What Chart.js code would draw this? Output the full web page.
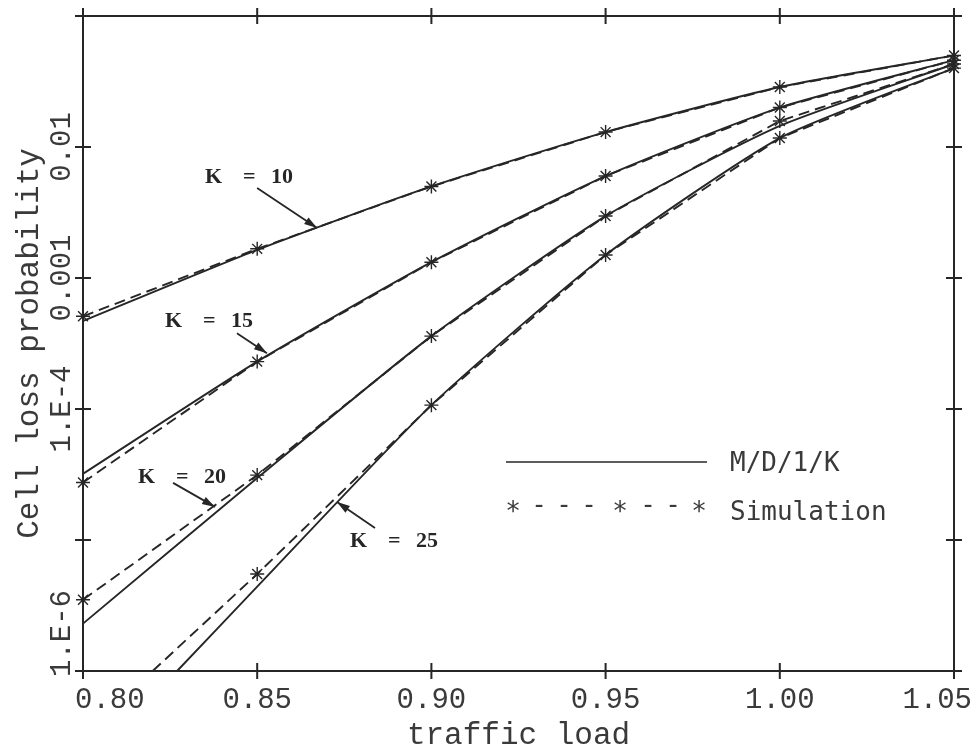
<!DOCTYPE html>
<html>
<head>
<meta charset="utf-8">
<script src="https://cdn.jsdelivr.net/npm/chart.js@4.4.1/dist/chart.umd.min.js"></script>
<style>
  body { margin: 0; background: #fff; }
  #wrap { width: 976px; height: 753px; }
</style>
</head>
<body>
<div id="wrap"><canvas id="chart" width="976" height="753"></canvas></div>
<script>
// traffic load
const load = [0.80, 0.85, 0.90, 0.95, 1.00, 1.05];
// K = 25 drops under 1.E-6 before 0.85, so it starts where it leaves the floor
const loadK25 = [0.827, 0.85, 0.90, 0.95, 1.00, 1.05];
const loadK25Sim = [0.820, 0.85, 0.90, 0.95, 1.00, 1.05];

// M/D/1/K (solid)
const mdK10 = [4.7e-4, 1.64e-3, 5.0e-3, 1.30e-2, 2.87e-2, 5.0e-2];
const mdK15 = [3.2e-5, 2.3e-4, 1.32e-3, 6.0e-3, 2.0e-2, 4.6e-2];
const mdK20 = [2.3e-6, 2.97e-5, 3.6e-4, 2.97e-3, 1.45e-2, 4.3e-2];
const mdK25 = [1.0e-6, 4.4e-6, 1.07e-4, 1.5e-3, 1.17e-2, 4.0e-2];

// Simulation (dashed, asterisks)
const simK10 = [5.1e-4, 1.67e-3, 5.0e-3, 1.30e-2, 2.87e-2, 5.0e-2];
const simK15 = [2.75e-5, 2.3e-4, 1.32e-3, 6.0e-3, 2.0e-2, 4.6e-2];
const simK20 = [3.5e-6, 3.13e-5, 3.6e-4, 2.97e-3, 1.58e-2, 4.3e-2];
const simK25 = [1.0e-6, 5.5e-6, 1.07e-4, 1.5e-3, 1.17e-2, 4.0e-2];

const xTicks = [0.80, 0.85, 0.90, 0.95, 1.00, 1.05];
const xTickLabels = ["0.80", "0.85", "0.90", "0.95", "1.00", "1.05"];
const yTicks = [1e-6, 1e-5, 1e-4, 1e-3, 1e-2, 1e-1];
const yTickLabels = ["1.E-6", "", "1.E-4", "0.001", "0.01", ""];

const yMin = 1e-6;
const yMax = 1e-1;
const ink = "#262626";
const textInk = "#3a3a3a";

const pts = (xs, ys) => xs.map((x, i) => ({ x: x, y: ys[i] }));

const theory = (ys, xs = load) => ({
  data: pts(xs, ys),
  showLine: true,
  borderColor: ink,
  borderWidth: 1.9,
  pointRadius: 0,
  tension: 0.2,
  clip: false,
});

const sim = (ys, xs = load) => ({
  data: pts(xs, ys),
  showLine: true,
  borderColor: ink,
  borderWidth: 1.9,
  borderDash: [11, 6],
  tension: 0,
  pointStyle: "star",
  pointRadius: (c) => (c.raw && c.raw.y <= yMin ? 0 : 7),
  pointBorderColor: ink,
  pointBorderWidth: 1.4,
  clip: false,
});

// K labels with arrows: tip in data units, tail / text offsets in px from the tip
const notes = [
  { k: "10", tip: [0.8672, 2.41e-3], tail: [-60, -40], text: [-112, -45] },
  { k: "15", tip: [0.8528, 2.67e-4], tail: [-30, -20], text: [-102, -26] },
  { k: "20", tip: [0.8379, 1.79e-5], tail: [-42, -24], text: [-77, -24] },
  { k: "25", tip: [0.8729, 1.95e-5], tail: [38, 26], text: [13, 45] },
];

const framePlugin = {
  id: "frame",
  afterDatasetsDraw(chart) {
    const { ctx, chartArea: a } = chart;
    const x = chart.scales.x;
    const y = chart.scales.y;
    ctx.save();
    ctx.strokeStyle = ink;
    ctx.lineWidth = 2;
    ctx.strokeRect(a.left, a.top, a.right - a.left, a.bottom - a.top);
    ctx.beginPath();
    x.ticks.forEach((t) => {
      const px = x.getPixelForValue(t.value);
      ctx.moveTo(px, a.top - 8); ctx.lineTo(px, a.top + 8);
      ctx.moveTo(px, a.bottom - 8); ctx.lineTo(px, a.bottom + 8);
    });
    y.ticks.forEach((t) => {
      const py = y.getPixelForValue(t.value);
      ctx.moveTo(a.left - 8, py); ctx.lineTo(a.left + 8, py);
      ctx.moveTo(a.right - 8, py); ctx.lineTo(a.right + 8, py);
    });
    ctx.stroke();

    // tick labels, end ones kept inside like the original
    ctx.fillStyle = textInk;
    ctx.font = '29px "Liberation Mono"';
    ctx.textBaseline = "alphabetic";
    ctx.textAlign = "left";
    x.ticks.forEach((t) => {
      const w = ctx.measureText(t.label).width;
      let left = x.getPixelForValue(t.value) - w / 2;
      left = Math.max(a.left - 8, Math.min(left, a.right + 18 - w));
      ctx.fillText(t.label, left, a.bottom + 37);
    });
    y.ticks.forEach((t) => {
      if (!t.label) return;
      const w = ctx.measureText(t.label).width;
      const c = Math.min(y.getPixelForValue(t.value), a.bottom + 6 - w / 2);
      ctx.save();
      ctx.translate(a.left - 13, c);
      ctx.rotate(-Math.PI / 2);
      ctx.textAlign = "center";
      ctx.fillText(t.label, 0, 0);
      ctx.restore();
    });
    ctx.restore();
  },
};

const notesPlugin = {
  id: "notes",
  afterDatasetsDraw(chart) {
    const { ctx, chartArea: a } = chart;
    const x = chart.scales.x;
    const y = chart.scales.y;
    ctx.save();
    ctx.strokeStyle = ink;
    ctx.fillStyle = ink;
    ctx.lineWidth = 1.8;
    notes.forEach((n) => {
      const tx = x.getPixelForValue(n.tip[0]);
      const ty = y.getPixelForValue(n.tip[1]);
      const fx = tx + n.tail[0];
      const fy = ty + n.tail[1];
      const ang = Math.atan2(ty - fy, tx - fx);
      ctx.beginPath();
      ctx.moveTo(fx, fy);
      ctx.lineTo(tx, ty);
      ctx.stroke();
      ctx.beginPath();
      ctx.moveTo(tx, ty);
      ctx.lineTo(tx - 13 * Math.cos(ang) + 4 * Math.sin(ang), ty - 13 * Math.sin(ang) - 4 * Math.cos(ang));
      ctx.lineTo(tx - 13 * Math.cos(ang) - 4 * Math.sin(ang), ty - 13 * Math.sin(ang) + 4 * Math.cos(ang));
      ctx.closePath();
      ctx.fill();

      ctx.font = 'bold 22px "Liberation Serif"';
      ctx.textAlign = "left";
      ctx.textBaseline = "alphabetic";
      const lx = tx + n.text[0];
      const ly = ty + n.text[1];
      ctx.fillText("K", lx, ly);
      ctx.fillText("=", lx + 38, ly);
      ctx.fillText(n.k, lx + 66, ly);
    });

    // legend inside the plot
    ctx.lineWidth = 1.5;
    ctx.beginPath();
    ctx.moveTo(a.left + 423, a.top + 446);
    ctx.lineTo(a.left + 624, a.top + 446);
    ctx.stroke();
    ctx.font = '26px "DejaVu Sans Mono"';
    ctx.fillStyle = textInk;
    ctx.fillText("M/D/1/K", a.left + 647, a.top + 455);
    ctx.fillText("Simulation", a.left + 647, a.top + 504);
    ctx.textAlign = "center";
    [430, 537, 616].forEach((dx) => ctx.fillText("*", a.left + dx, a.top + 504));
    [456, 481, 506, 565, 590].forEach((dx) => ctx.fillText("-", a.left + dx, a.top + 497));
    ctx.restore();
  },
};

new Chart(document.getElementById("chart"), {
  type: "scatter",
  data: {
    datasets: [
      theory(mdK10), theory(mdK15), theory(mdK20), theory(mdK25, loadK25),
      sim(simK10), sim(simK15), sim(simK20), sim(simK25, loadK25Sim),
    ],
  },
  options: {
    responsive: false,
    animation: false,
    devicePixelRatio: 1,
    layout: { padding: { top: 16, right: 22, left: 0, bottom: 0 } },
    plugins: { legend: { display: false }, tooltip: { enabled: false } },
    scales: {
      x: {
        type: "linear",
        min: 0.80,
        max: 1.05,
        afterBuildTicks: (s) => { s.ticks = xTicks.map((v) => ({ value: v })); },
        afterFit: (s) => { s.height = 82; },
        ticks: { display: false, callback: (v, i) => xTickLabels[i] },
        grid: { display: false },
        border: { display: false },
        title: {
          display: true,
          text: "traffic load",
          color: textInk,
          font: { family: "Liberation Mono", size: 31, lineHeight: 1 },
          padding: { top: 0, bottom: 2 },
        },
      },
      y: {
        type: "logarithmic",
        min: yMin,
        max: yMax,
        afterBuildTicks: (s) => { s.ticks = yTicks.map((v) => ({ value: v })); },
        afterFit: (s) => { s.width = 83; },
        ticks: { display: false, callback: (v, i) => yTickLabels[i] },
        grid: { display: false },
        border: { display: false },
        title: {
          display: true,
          text: "Cell loss probability",
          color: textInk,
          font: { family: "Liberation Mono", size: 31, lineHeight: 1 },
          padding: { top: 14, bottom: 0 },
        },
      },
    },
  },
  plugins: [framePlugin, notesPlugin],
});
</script>
</body>
</html>
